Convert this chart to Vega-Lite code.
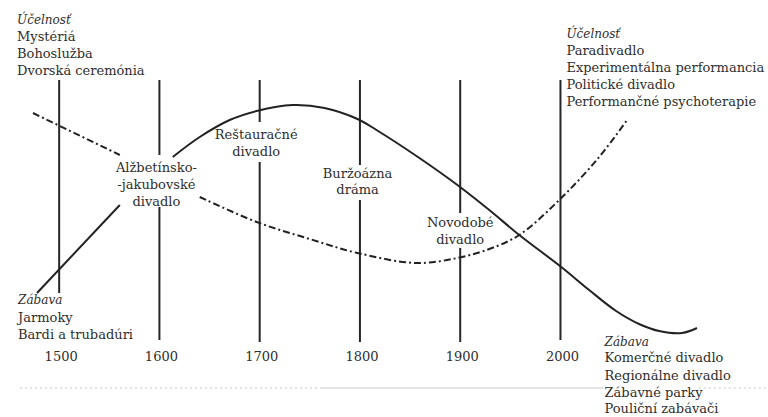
{
  "$schema": "https://vega.github.io/schema/vega-lite/v6.json",
  "width": 768,
  "height": 417,
  "autosize": {"type": "fit", "contains": "padding"},
  "padding": 0,
  "background": "#ffffff",
  "config": {"view": {"stroke": null}},
  "datasets": {
    "solid": [
      {"seg": "A", "year": 1477.9, "lvl": 124},
      {"seg": "A", "year": 1560.5, "lvl": 212},
      {"seg": "B", "year": 1613.3, "lvl": 260},
      {"seg": "B", "year": 1640.2, "lvl": 280},
      {"seg": "B", "year": 1670.1, "lvl": 297},
      {"seg": "B", "year": 1697.0, "lvl": 306},
      {"seg": "B", "year": 1732.8, "lvl": 312},
      {"seg": "B", "year": 1764.7, "lvl": 309},
      {"seg": "B", "year": 1797.6, "lvl": 298},
      {"seg": "B", "year": 1816.5, "lvl": 287},
      {"seg": "B", "year": 1859.3, "lvl": 259},
      {"seg": "B", "year": 1897.2, "lvl": 232},
      {"seg": "B", "year": 1929.0, "lvl": 207},
      {"seg": "B", "year": 1958.9, "lvl": 182},
      {"seg": "B", "year": 2000.8, "lvl": 150},
      {"seg": "B", "year": 2028.6, "lvl": 127},
      {"seg": "B", "year": 2055.5, "lvl": 106},
      {"seg": "B", "year": 2078.4, "lvl": 93},
      {"seg": "B", "year": 2098.4, "lvl": 86},
      {"seg": "B", "year": 2121.3, "lvl": 84},
      {"seg": "B", "year": 2136.2, "lvl": 89}
    ],
    "dashed": [
      {"seg": "A", "year": 1473.9, "lvl": 304},
      {"seg": "A", "year": 1560.5, "lvl": 262},
      {"seg": "B", "year": 1640.2, "lvl": 220},
      {"seg": "B", "year": 1697.0, "lvl": 195},
      {"seg": "B", "year": 1749.8, "lvl": 178},
      {"seg": "B", "year": 1797.6, "lvl": 164},
      {"seg": "B", "year": 1856.3, "lvl": 154},
      {"seg": "B", "year": 1897.2, "lvl": 159},
      {"seg": "B", "year": 1929.0, "lvl": 168},
      {"seg": "B", "year": 1958.9, "lvl": 182},
      {"seg": "B", "year": 2000.8, "lvl": 219},
      {"seg": "B", "year": 2038.6, "lvl": 260},
      {"seg": "B", "year": 2066.5, "lvl": 297}
    ],
    "rules": [
      {"year": 1500, "top": 337, "bottom": 124},
      {"year": 1600, "top": 337, "bottom": 262},
      {"year": 1600, "top": 210, "bottom": 77},
      {"year": 1700, "top": 337, "bottom": 295},
      {"year": 1700, "top": 255, "bottom": 75},
      {"year": 1800, "top": 337, "bottom": 252},
      {"year": 1800, "top": 217, "bottom": 75},
      {"year": 1900, "top": 337, "bottom": 204},
      {"year": 1900, "top": 169, "bottom": 75},
      {"year": 2000, "top": 337, "bottom": 77}
    ],
    "leftText": [
      {"year": 1458, "lvl": 380, "label": "Mystériá"},
      {"year": 1458, "lvl": 363, "label": "Bohoslužba"},
      {"year": 1458, "lvl": 346, "label": "Dvorská ceremónia"},
      {"year": 2006, "lvl": 366, "label": "Paradivadlo"},
      {"year": 2006, "lvl": 349, "label": "Experimentálna performancia"},
      {"year": 2006, "lvl": 332, "label": "Politické divadlo"},
      {"year": 2006, "lvl": 315, "label": "Performančné psychoterapie"},
      {"year": 1459, "lvl": 99, "label": "Jarmoky"},
      {"year": 1459, "lvl": 82, "label": "Bardi a trubadúri"},
      {"year": 2044, "lvl": 59, "label": "Komerčné divadlo"},
      {"year": 2044, "lvl": 41, "label": "Regionálne divadlo"},
      {"year": 2044, "lvl": 24, "label": "Zábavné parky"},
      {"year": 2044, "lvl": 8, "label": "Pouliční zabávači"}
    ],
    "italicText": [
      {"year": 1458, "lvl": 397, "label": "Účelnosť"},
      {"year": 2006, "lvl": 383, "label": "Účelnosť"},
      {"year": 1459, "lvl": 117, "label": "Zábava"},
      {"year": 2044, "lvl": 75, "label": "Zábava"}
    ],
    "centerText": [
      {"year": 1502, "lvl": 60, "label": "1500"},
      {"year": 1602, "lvl": 60, "label": "1600"},
      {"year": 1702, "lvl": 60, "label": "1700"},
      {"year": 1802, "lvl": 60, "label": "1800"},
      {"year": 1902, "lvl": 60, "label": "1900"},
      {"year": 2002, "lvl": 60, "label": "2000"},
      {"year": 1597, "lvl": 249, "label": "Alžbetínsko-"},
      {"year": 1597, "lvl": 232, "label": "-jakubovské"},
      {"year": 1597, "lvl": 215, "label": "divadlo"},
      {"year": 1696.5, "lvl": 282, "label": "Reštauračné"},
      {"year": 1696.5, "lvl": 265, "label": "divadlo"},
      {"year": 1797.6, "lvl": 243, "label": "Buržoázna"},
      {"year": 1797.6, "lvl": 227, "label": "dráma"},
      {"year": 1900, "lvl": 194, "label": "Novodobé"},
      {"year": 1900, "lvl": 177, "label": "divadlo"}
    ],
    "scanLine": [
      {"from": 1461, "to": 1760, "kind": "dash"},
      {"from": 1760, "to": 2043, "kind": "solid"},
      {"from": 2138, "to": 2206, "kind": "dash"}
    ]
  },
  "layer": [
    {
      "data": {"name": "scanLine"},
      "mark": {"type": "rule", "color": "#c4c4c4", "strokeWidth": 1},
      "encoding": {
        "x": {"field": "from", "type": "quantitative", "scale": {"domain": [1441, 2206], "nice": false, "zero": false}, "axis": null},
        "x2": {"field": "to"},
        "y": {"datum": 29, "type": "quantitative", "scale": {"domain": [0, 417], "nice": false, "zero": false}, "axis": null},
        "strokeDash": {"field": "kind", "type": "nominal", "scale": {"domain": ["dash", "solid"], "range": [[2, 3], [1, 0]]}, "legend": null}
      }
    },
    {
      "data": {"name": "rules"},
      "mark": {"type": "rule", "color": "#262626", "strokeWidth": 2},
      "encoding": {
        "x": {"field": "year", "type": "quantitative", "scale": {"domain": [1441, 2206], "nice": false, "zero": false}, "axis": null},
        "y": {"field": "top", "type": "quantitative", "scale": {"domain": [0, 417], "nice": false, "zero": false}, "axis": null},
        "y2": {"field": "bottom"}
      }
    },
    {
      "data": {"name": "solid"},
      "mark": {"type": "line", "color": "#222222", "strokeWidth": 2, "interpolate": "catmull-rom"},
      "encoding": {
        "x": {"field": "year", "type": "quantitative", "scale": {"domain": [1441, 2206], "nice": false, "zero": false}, "axis": null},
        "y": {"field": "lvl", "type": "quantitative", "scale": {"domain": [0, 417], "nice": false, "zero": false}, "axis": null},
        "detail": {"field": "seg", "type": "nominal"}
      }
    },
    {
      "data": {"name": "dashed"},
      "mark": {"type": "line", "color": "#222222", "strokeWidth": 2, "interpolate": "catmull-rom", "strokeDash": [7, 3, 2, 3]},
      "encoding": {
        "x": {"field": "year", "type": "quantitative", "scale": {"domain": [1441, 2206], "nice": false, "zero": false}, "axis": null},
        "y": {"field": "lvl", "type": "quantitative", "scale": {"domain": [0, 417], "nice": false, "zero": false}, "axis": null},
        "detail": {"field": "seg", "type": "nominal"}
      }
    },
    {
      "data": {"name": "leftText"},
      "mark": {"type": "text", "align": "left", "baseline": "middle", "font": "DejaVu Serif", "fontSize": 13, "color": "#2e2e2e"},
      "encoding": {
        "x": {"field": "year", "type": "quantitative", "scale": {"domain": [1441, 2206], "nice": false, "zero": false}, "axis": null},
        "y": {"field": "lvl", "type": "quantitative", "scale": {"domain": [0, 417], "nice": false, "zero": false}, "axis": null},
        "text": {"field": "label", "type": "nominal"}
      }
    },
    {
      "data": {"name": "italicText"},
      "mark": {"type": "text", "align": "left", "baseline": "middle", "font": "DejaVu Serif", "fontSize": 12, "fontStyle": "italic", "color": "#2e2e2e"},
      "encoding": {
        "x": {"field": "year", "type": "quantitative", "scale": {"domain": [1441, 2206], "nice": false, "zero": false}, "axis": null},
        "y": {"field": "lvl", "type": "quantitative", "scale": {"domain": [0, 417], "nice": false, "zero": false}, "axis": null},
        "text": {"field": "label", "type": "nominal"}
      }
    },
    {
      "data": {"name": "centerText"},
      "mark": {"type": "text", "align": "center", "baseline": "middle", "font": "DejaVu Serif", "fontSize": 13, "color": "#2e2e2e"},
      "encoding": {
        "x": {"field": "year", "type": "quantitative", "scale": {"domain": [1441, 2206], "nice": false, "zero": false}, "axis": null},
        "y": {"field": "lvl", "type": "quantitative", "scale": {"domain": [0, 417], "nice": false, "zero": false}, "axis": null},
        "text": {"field": "label", "type": "nominal"}
      }
    }
  ]
}
